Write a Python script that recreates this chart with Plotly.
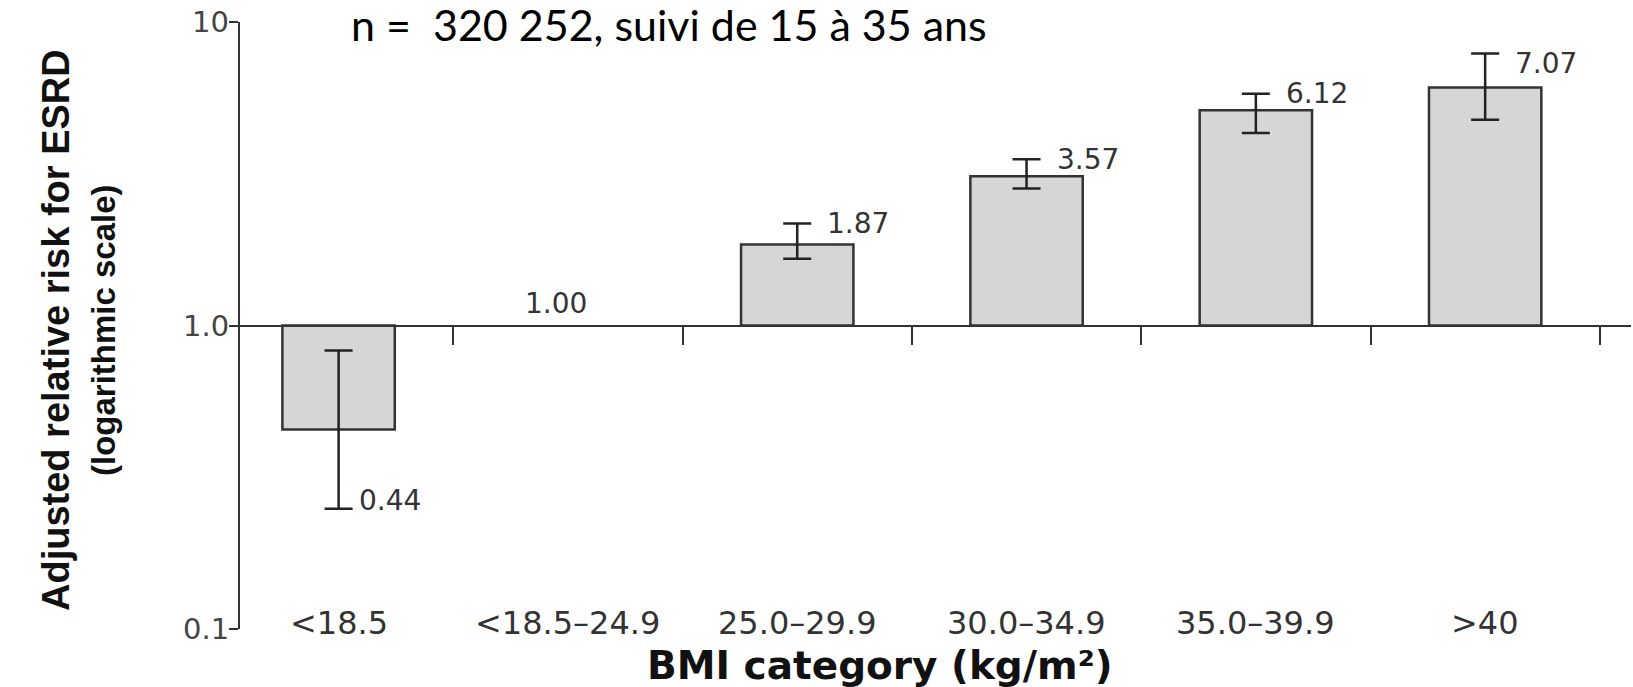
import math
import plotly.graph_objects as go

# ---- data ----
categories = ["<18.5", "<18.5–24.9", "25.0–29.9", "30.0–34.9", "35.0–39.9", ">40"]
bar_values = [0.454, None, 1.85, 3.10, 5.12, 6.08]      # drawn bar ends (log scale, from 1.0)
ci_upper = [0.827, None, 2.17, 3.53, 5.80, 7.87]
ci_lower = [0.249, None, 1.66, 2.83, 4.31, 4.76]
value_labels = ["0.44", "1.00", "1.87", "3.57", "6.12", "7.07"]
y_tick_vals = [0.1, 1.0, 10]
y_tick_text = ["0.1", "1.0", "10"]
subtitle = "n = \u00a0320 252, suivi de 15 à 35 ans"
x_title = "BMI category (kg/m²)"
y_title_lines = ["Adjusted relative risk for ESRD", "(logarithmic scale)"]
reference_value = 1.0

W, H = 1633, 687
ML, MR, MT, MB = 240, 2, 22, 58
XR = [-0.43, 5.636]

AX = "#333333"
TXT = "#333333"

plot_w = W - ML - MR
plot_h = H - MT - MB


def px_x(full_x):
    return (full_x - ML) / plot_w


def px_y(full_y):
    return (H - MB - full_y) / plot_h


fig = go.Figure()

# bars drawn from the reference value 1.0
fig.add_trace(go.Bar(
    x=categories,
    y=[(v - reference_value) if v is not None else None for v in bar_values],
    base=reference_value,
    width=0.49,
    marker=dict(color="#d6d6d6", line=dict(color=AX, width=2.5)),
    hoverinfo="skip",
    showlegend=False,
))

# confidence intervals
fig.add_trace(go.Scatter(
    x=categories,
    y=bar_values,
    mode="markers",
    marker=dict(size=1, color="rgba(0,0,0,0)"),
    error_y=dict(
        type="data", symmetric=False,
        array=[(u - v) if v is not None else None for u, v in zip(ci_upper, bar_values)],
        arrayminus=[(v - l) if v is not None else None for l, v in zip(ci_lower, bar_values)],
        color="#222222", thickness=2.5, width=14,
    ),
    hoverinfo="skip",
    showlegend=False,
))

# invisible trace for the axis drawn at 1.0
fig.add_trace(go.Scatter(
    x=categories, y=[reference_value] * len(categories),
    xaxis="x2", mode="markers",
    marker=dict(size=1, color="rgba(0,0,0,0)"),
    hoverinfo="skip", showlegend=False,
))

annotations = []
VFONT = dict(family="DejaVu Sans", size=28, color=TXT)
# value labels
for i, (cat, lab) in enumerate(zip(categories, value_labels)):
    v = bar_values[i]
    if v is None:
        annotations.append(dict(
            x=cat, y=math.log10(reference_value), xref="x", yref="y",
            text=lab, showarrow=False, xanchor="center", yanchor="bottom",
            yshift=4, xshift=-12, font=VFONT))
    elif v < reference_value:
        annotations.append(dict(
            x=cat, y=math.log10(ci_lower[i]), xref="x", yref="y",
            text=lab, showarrow=False, xanchor="left", yanchor="middle",
            xshift=18, yshift=8, font=VFONT))
    else:
        annotations.append(dict(
            x=cat, y=math.log10(ci_upper[i]), xref="x", yref="y",
            text=lab, showarrow=False, xanchor="left", yanchor="middle",
            xshift=28, yshift=(-10 if i == len(categories) - 1 else 0),
            font=VFONT))

# category labels at the bottom (level 0.1)
for cat in categories:
    annotations.append(dict(
        x=cat, y=math.log10(y_tick_vals[0]), xref="x", yref="y",
        text=cat, showarrow=False, xanchor="center", yanchor="middle",
        yshift=6, font=dict(family="DejaVu Sans", size=32, color=TXT)))

# y tick labels
for v, t in zip(y_tick_vals, y_tick_text):
    annotations.append(dict(
        x=0, y=math.log10(v), xref="paper", yref="y",
        text=t, showarrow=False, xanchor="right", yanchor="middle",
        xshift=-9, font=dict(family="DejaVu Sans", size=29, color="#444444")))

annotations.append(dict(
    x=px_x(880), y=px_y(665), xref="paper", yref="paper",
    text=x_title, showarrow=False, xanchor="center", yanchor="middle",
    font=dict(family="DejaVu Sans", size=39, color="#111111", weight="bold")))

# y title, two rotated lines
annotations.append(dict(
    x=px_x(56), y=px_y(330), xref="paper", yref="paper",
    text=y_title_lines[0], showarrow=False, xanchor="center", yanchor="middle",
    textangle=-90,
    font=dict(family="Liberation Sans", size=38, color="#111111", weight="bold")))
annotations.append(dict(
    x=px_x(103), y=px_y(330), xref="paper", yref="paper",
    text=y_title_lines[1], showarrow=False, xanchor="center", yanchor="middle",
    textangle=-90,
    font=dict(family="Liberation Sans", size=33, color="#111111", weight="bold")))

annotations.append(dict(
    x=px_x(349), y=px_y(24), xref="paper", yref="paper",
    text=subtitle, showarrow=False, xanchor="left", yanchor="middle",
    font=dict(family="Lato", size=43, color="#000000")))

fig.update_layout(
    width=W, height=H,
    margin=dict(l=ML, r=MR, t=MT, b=MB, pad=0),
    paper_bgcolor="white", plot_bgcolor="white",
    showlegend=False,
    xaxis=dict(
        type="category", categoryorder="array", categoryarray=categories,
        range=XR, showline=False, showgrid=False, zeroline=False,
        ticks="", showticklabels=False, fixedrange=True,
    ),
    xaxis2=dict(
        type="category", categoryorder="array", categoryarray=categories,
        overlaying="x", anchor="free", position=0.5,
        range=XR, showline=True, linecolor=AX, linewidth=2,
        ticks="outside", tickson="boundaries", ticklen=18, tickwidth=2,
        tickcolor=AX, showticklabels=False, showgrid=False, zeroline=False,
    ),
    yaxis=dict(
        type="log", range=[-1, 1], showline=True, linecolor=AX, linewidth=2,
        ticks="outside", ticklen=9, tickwidth=2, tickcolor=AX,
        tickvals=y_tick_vals, showticklabels=False,
        showgrid=False, zeroline=False,
    ),
    annotations=annotations,
)

# let the 1633x687 figure fill the window (remove the default page margin)
fig.write_html("out.html", config={"displayModeBar": False},
               post_script="document.body.style.margin='0px';")
